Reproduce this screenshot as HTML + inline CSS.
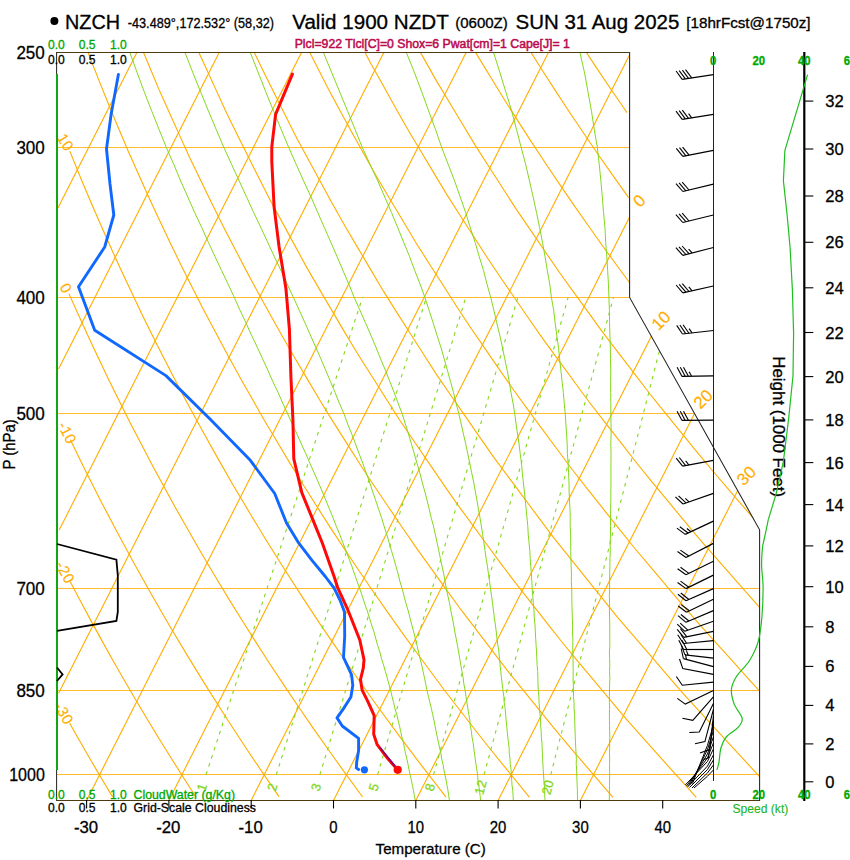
<!DOCTYPE html>
<html><head><meta charset="utf-8"><title>NZCH sounding</title>
<style>html,body{margin:0;padding:0;background:#fff}svg{display:block}</style></head>
<body><svg width="850" height="860" viewBox="0 0 850 860" font-family="Liberation Sans, Arial, Helvetica, sans-serif">
<rect width="850" height="860" fill="#fff"/>
<defs><clipPath id="c"><path d="M56.80 800.40 L759.50 800.40 L759.50 529.79 L629.93 297.45 L629.93 52.40 L56.80 52.40Z"/></clipPath></defs>
<g clip-path="url(#c)">
<path d="M56.80 774.50 L759.50 774.50" fill="none" stroke="#ffbc30" stroke-width="1.0" />
<path d="M56.80 690.50 L759.50 690.50" fill="none" stroke="#ffbc30" stroke-width="1.0" />
<path d="M56.80 588.50 L759.50 588.50" fill="none" stroke="#ffbc30" stroke-width="1.0" />
<path d="M56.80 413.50 L694.41 413.50" fill="none" stroke="#ffbc30" stroke-width="1.0" />
<path d="M56.80 297.50 L629.93 297.50" fill="none" stroke="#ffbc30" stroke-width="1.0" />
<path d="M56.80 147.50 L629.93 147.50" fill="none" stroke="#ffbc30" stroke-width="1.0" />
<path d="M58.95 -280.48 L132.39 -425.19" fill="none" stroke="#ffae00" stroke-width="1.12" />
<path d="M57.75 -115.94 L214.70 -425.19" fill="none" stroke="#ffae00" stroke-width="1.12" />
<path d="M57.82 46.11 L297.01 -425.19" fill="none" stroke="#ffae00" stroke-width="1.12" />
<path d="M57.94 208.05 L379.32 -425.19" fill="none" stroke="#ffae00" stroke-width="1.12" />
<path d="M58.52 369.09 L461.64 -425.19" fill="none" stroke="#ffae00" stroke-width="1.12" />
<path d="M59.17 529.99 L543.95 -425.19" fill="none" stroke="#ffae00" stroke-width="1.12" />
<path d="M58.59 693.32 L626.26 -425.19" fill="none" stroke="#ffae00" stroke-width="1.12" />
<path d="M86.56 800.40 L629.18 -268.77" fill="none" stroke="#ffae00" stroke-width="1.12" />
<path d="M168.87 800.40 L628.15 -104.54" fill="none" stroke="#ffae00" stroke-width="1.12" />
<path d="M251.18 800.40 L629.75 54.48" fill="none" stroke="#ffae00" stroke-width="1.12" />
<path d="M333.50 800.40 L630.23 215.73" fill="none" stroke="#ffae00" stroke-width="1.12" />
<path d="M415.81 800.40 L651.97 335.07" fill="none" stroke="#ffae00" stroke-width="1.12" />
<path d="M498.12 800.40 L694.39 413.68" fill="none" stroke="#ffae00" stroke-width="1.12" />
<path d="M580.43 800.40 L737.44 491.04" fill="none" stroke="#ffae00" stroke-width="1.12" />
<path d="M69.61 723.07 L73.93 730.74 L78.27 738.41 L82.65 746.08 L87.07 753.76 L91.52 761.43 L96.01 769.10 L100.53 776.77 L105.09 784.44 L109.69 792.11 L112.64 797.02" fill="none" stroke="#ffae00" stroke-width="1.12" />
<path d="M70.27 581.84 L80.56 601.36 L91.05 620.87 L101.76 640.38 L112.67 659.90 L123.84 679.41 L135.23 698.93 L146.84 718.44 L158.67 737.95 L170.76 757.47 L183.08 776.98 L195.63 796.50 L196.13 797.28" fill="none" stroke="#ffae00" stroke-width="1.12" />
<path d="M70.34 439.77 L85.61 470.97 L101.41 502.16 L117.80 533.36 L134.73 564.56 L152.20 595.75 L170.25 626.95 L188.92 658.15 L208.18 689.34 L228.01 720.54 L248.45 751.73 L269.58 782.93 L279.04 796.66" fill="none" stroke="#ffae00" stroke-width="1.12" />
<path d="M68.86 293.61 L88.37 336.85 L108.84 380.09 L130.35 423.33 L152.97 466.57 L176.61 509.82 L201.30 553.06 L215.69 577.27 L228.75 598.89 L242.15 620.51 L255.86 642.14 L269.76 663.76 L284.10 685.38 L298.67 707.00 L313.49 728.62 L328.75 750.24 L344.21 771.86 L360.03 793.48 L362.56 796.94" fill="none" stroke="#ffae00" stroke-width="1.12" />
<path d="M69.83 151.13 L81.06 178.92 L92.88 206.72 L104.98 234.51 L117.45 262.31 L130.46 290.10 L143.75 317.89 L157.54 345.69 L171.77 373.48 L186.28 401.28 L201.47 429.07 L216.98 456.87 L232.89 484.66 L249.42 512.45 L266.26 540.25 L283.67 568.04 L301.58 595.84 L319.81 623.63 L338.80 651.42 L358.15 679.22 L377.95 707.01 L398.46 734.81 L419.31 762.60 L440.82 790.39 L445.98 797.06" fill="none" stroke="#ffae00" stroke-width="1.12" />
<path d="M63.45 -14.23 L72.13 9.59 L80.80 33.41 L89.81 56.93 L98.95 80.34 L108.34 103.75 L118.12 127.16 L127.93 150.54 L138.19 173.55 L148.44 196.56 L159.04 219.30 L169.78 241.93 L180.73 264.55 L192.14 287.18 L203.55 309.81 L215.41 332.10 L227.31 354.36 L239.46 376.44 L251.86 398.34 L264.26 420.24 L277.16 441.79 L290.06 463.34 L303.21 484.73 L316.62 505.95 L330.04 527.16 L343.92 548.07 L357.85 568.96 L371.94 589.75 L386.38 610.32 L400.83 630.89 L415.63 651.25 L430.60 671.52 L445.58 691.78 L461.08 711.75 L476.58 731.72 L492.18 751.52 L507.99 770.92 L523.80 790.31 L529.50 797.30" fill="none" stroke="#ffae00" stroke-width="1.12" />
<path d="M63.15 -170.53 L70.82 -146.74 L78.48 -122.94 L86.35 -99.14 L94.73 -75.34 L103.11 -51.55 L111.83 -27.94 L120.82 -4.49 L129.80 18.96 L139.28 42.15 L148.89 65.27 L158.49 88.38 L168.87 111.50 L179.24 134.62 L189.74 157.67 L200.76 180.46 L211.78 203.25 L223.03 225.93 L234.70 248.41 L246.37 270.88 L258.27 293.07 L270.44 314.93 L282.60 336.80 L295.12 358.52 L307.95 380.09 L320.78 401.67 L333.97 423.10 L347.48 444.39 L360.99 465.68 L374.75 486.71 L388.78 507.46 L402.80 528.21 L417.07 548.86 L431.79 569.34 L446.52 589.83 L461.34 610.21 L476.59 630.19 L491.83 650.17 L507.08 670.14 L522.83 689.66 L538.60 709.16 L554.37 728.65 L570.49 747.86 L586.79 766.89 L603.10 785.93 L612.89 797.35" fill="none" stroke="#ffae00" stroke-width="1.12" />
<path d="M63.34 -334.52 L70.09 -310.27 L76.83 -286.02 L83.57 -261.77 L90.95 -237.79 L98.40 -213.85 L105.86 -189.90 L113.84 -166.18 L122.02 -142.53 L130.21 -118.89 L138.78 -95.40 L147.71 -72.04 L156.64 -48.69 L165.78 -25.42 L175.47 -2.35 L185.16 20.72 L194.85 43.78 L205.31 66.57 L215.78 89.36 L226.25 112.15 L237.26 134.76 L248.53 157.28 L259.80 179.79 L271.28 202.15 L283.23 224.14 L295.17 246.13 L307.12 268.13 L319.79 289.90 L332.57 311.64 L345.34 333.39 L358.40 354.93 L371.87 376.19 L385.35 397.44 L398.82 418.69 L412.90 439.55 L427.08 460.34 L441.27 481.12 L455.60 501.82 L470.50 522.16 L485.41 542.50 L500.31 562.84 L515.49 582.87 L530.97 602.58 L546.44 622.28 L561.92 641.98 L577.87 661.43 L594.09 680.73 L610.31 700.03 L626.53 719.33 L643.17 738.22 L659.97 756.95 L676.78 775.68 L693.59 794.41 L696.28 797.40" fill="none" stroke="#ffae00" stroke-width="1.12" />
<path d="M83.91 -425.19 L90.37 -400.77 L96.84 -376.34 L103.31 -351.92 L110.32 -327.70 L117.55 -303.57 L124.78 -279.44 L132.32 -255.43 L140.33 -231.58 L148.33 -207.74 L156.37 -183.91 L165.18 -160.34 L173.98 -136.78 L182.79 -113.22 L192.12 -89.83 L201.74 -66.54 L211.37 -43.25 L221.14 -20.07 L231.48 2.69 L241.83 25.45 L252.18 48.21 L263.11 70.80 L274.32 93.30 L285.52 115.81 L296.82 138.25 L308.77 160.26 L320.72 182.27 L332.68 204.28 L344.99 226.06 L357.71 247.60 L370.42 269.14 L383.13 290.67 L396.43 311.86 L409.92 332.95 L423.40 354.03 L436.89 375.11 L451.13 395.78 L465.40 416.43 L479.68 437.07 L494.01 457.69 L509.08 477.92 L524.16 498.15 L539.23 518.38 L554.39 538.54 L570.12 558.18 L585.86 577.81 L601.59 597.45 L617.35 617.06 L633.76 636.14 L650.17 655.21 L666.58 674.29 L682.99 693.36 L699.97 711.99 L717.06 730.54 L734.15 749.08 L751.25 767.63 L759.45 776.53" fill="none" stroke="#ffae00" stroke-width="1.12" />
<path d="M126.51 -425.19 L133.46 -401.02 L140.41 -376.85 L147.35 -352.68 L154.95 -328.80 L162.60 -304.93 L170.25 -281.07 L178.47 -257.46 L186.84 -233.90 L195.20 -210.34 L204.11 -186.78 L213.33 -163.22 L222.54 -139.66 L232.12 -116.24 L242.09 -92.98 L252.06 -69.72 L262.21 -46.61 L272.82 -23.91 L283.44 -1.22 L294.05 21.48 L305.45 43.90 L316.84 66.33 L328.24 88.75 L340.18 110.99 L352.38 133.15 L364.58 155.30 L377.00 177.29 L389.87 198.94 L402.74 220.58 L415.61 242.22 L429.08 263.43 L442.63 284.57 L456.18 305.72 L469.97 326.70 L484.21 347.38 L498.45 368.06 L512.69 388.74 L527.46 409.08 L542.40 429.31 L557.34 449.54 L572.33 469.73 L587.98 489.53 L603.63 509.33 L619.28 529.13 L635.11 548.74 L651.31 567.92 L667.51 587.11 L683.72 606.30 L700.17 625.23 L716.94 643.84 L733.70 662.45 L750.47 681.06 L759.86 691.49" fill="none" stroke="#ffae00" stroke-width="1.12" />
<path d="M169.12 -425.19 L176.54 -401.24 L183.97 -377.29 L191.49 -353.34 L199.67 -329.39 L207.85 -305.44 L216.19 -281.56 L225.04 -257.94 L233.88 -234.32 L242.94 -210.80 L252.46 -187.49 L261.98 -164.19 L271.74 -141.00 L281.94 -118.00 L292.15 -95.01 L302.60 -72.12 L313.50 -49.43 L324.40 -26.74 L335.53 -4.15 L347.15 18.25 L358.76 40.65 L370.55 62.97 L382.89 85.08 L395.23 107.19 L407.64 129.23 L420.55 150.79 L433.47 172.35 L446.39 193.90 L459.99 215.21 L473.66 236.50 L487.33 257.79 L501.40 278.73 L515.65 299.51 L529.91 320.29 L544.39 340.89 L559.24 361.18 L574.10 381.47 L588.96 401.75 L604.40 421.59 L619.86 441.42 L635.33 461.24 L651.09 480.85 L667.16 500.22 L683.24 519.60 L699.32 538.97 L715.98 557.96 L732.68 576.91 L749.38 595.86 L761.41 609.50" fill="none" stroke="#ffae00" stroke-width="1.12" />
<path d="M211.72 -425.19 L219.69 -401.22 L227.67 -377.25 L235.85 -353.40 L244.40 -329.79 L252.96 -306.17 L262.01 -282.56 L271.29 -258.94 L280.57 -235.33 L290.46 -212.06 L300.34 -188.79 L310.40 -165.62 L320.89 -142.69 L331.39 -119.76 L342.21 -97.00 L353.33 -74.40 L364.45 -51.80 L376.02 -29.42 L387.77 -7.14 L399.52 15.15 L411.83 37.16 L424.22 59.13 L436.61 81.11 L449.65 102.78 L462.69 124.46 L475.76 146.08 L489.28 167.18 L502.80 188.28 L516.37 209.35 L530.56 230.17 L544.75 250.99 L558.95 271.78 L573.63 292.07 L588.30 312.35 L602.97 332.64 L618.28 352.68 L633.64 372.71 L649.00 392.74 L664.74 412.39 L680.60 431.92 L696.46 451.46 L712.58 470.75 L728.95 489.81 L745.31 508.87 L758.41 524.12" fill="none" stroke="#ffae00" stroke-width="1.12" />
<path d="M254.33 -425.19 L262.74 -401.33 L271.16 -377.46 L280.12 -353.59 L289.09 -329.72 L298.42 -306.32 L307.76 -282.93 L317.63 -259.53 L327.53 -236.13 L337.77 -213.14 L348.05 -190.19 L358.81 -167.24 L369.67 -144.29 L380.81 -121.67 L392.05 -99.16 L403.67 -76.64 L415.51 -54.13 L427.55 -31.83 L439.78 -9.73 L452.14 12.23 L464.76 33.92 L477.47 55.62 L490.71 77.32 L503.95 99.02 L517.57 120.34 L531.21 141.65 L545.13 162.69 L559.17 183.63 L573.38 204.41 L587.81 224.98 L602.30 245.51 L617.14 265.74 L631.98 285.97 L635.54 290.82" fill="none" stroke="#ffae00" stroke-width="1.12" />
<path d="M296.93 -425.19 L305.86 -401.38 L314.85 -377.70 L324.06 -354.42 L333.48 -331.14 L343.18 -307.86 L353.20 -284.58 L363.39 -261.30 L373.82 -238.44 L384.30 -215.67 L395.29 -192.89 L406.36 -170.12 L417.87 -147.34 L429.47 -124.72 L441.27 -102.43 L453.30 -80.14 L465.63 -57.85 L478.11 -35.82 L490.73 -14.00 L503.69 7.83 L516.85 29.66 L530.22 51.16 L543.67 72.54 L557.33 93.60 L571.06 114.55 L585.23 135.50 L599.52 156.45 L614.04 177.09 L628.63 197.64" fill="none" stroke="#ffae00" stroke-width="1.12" />
<path d="M339.54 -425.19 L348.83 -401.79 L358.32 -378.38 L368.05 -354.97 L378.16 -331.57 L388.38 -308.35 L398.73 -285.53 L409.39 -262.70 L420.24 -239.88 L431.48 -217.06 L442.81 -194.53 L454.23 -172.26 L466.05 -150.00 L478.04 -127.74 L490.39 -105.47 L502.84 -83.52 L515.36 -61.79 L528.32 -40.05 L541.43 -18.32 L554.92 3.41 L568.49 24.87 L582.15 46.10 L596.22 67.32 L610.39 88.50 L624.71 109.24 L627.00 112.56" fill="none" stroke="#ffae00" stroke-width="1.12" />
<path d="M382.14 -425.19 L392.04 -401.60 L402.19 -378.01 L412.49 -354.68 L422.83 -331.78 L433.55 -308.88 L444.52 -285.99 L455.73 -263.09 L467.23 -240.20 L478.78 -217.91 L490.54 -195.66 L502.54 -173.42 L514.89 -151.18 L527.53 -128.94 L540.31 -106.90 L553.11 -85.27 L566.28 -63.65 L579.68 -42.03 L593.31 -20.41 L606.99 0.63 L620.88 21.67 L634.41 41.87" fill="none" stroke="#ffae00" stroke-width="1.12" />
<path d="M424.75 -425.19 L434.91 -402.17 L445.35 -379.15 L456.07 -356.14 L467.07 -333.12 L478.35 -310.10 L489.93 -287.08 L501.67 -264.28 L513.39 -242.06 L525.41 -219.83 L537.74 -197.61 L550.35 -175.38 L563.25 -153.16 L576.22 -131.29 L589.24 -109.80 L602.53 -88.32 L616.14 -66.84 L630.05 -45.35 L634.52 -38.48" fill="none" stroke="#ffae00" stroke-width="1.12" />
<path d="M467.35 -425.19 L478.15 -401.98 L489.23 -378.77 L500.60 -355.56 L512.26 -332.35 L523.90 -309.75 L535.61 -287.55 L547.61 -265.35 L559.89 -243.15 L572.45 -220.95 L585.32 -198.75 L598.49 -176.55 L611.96 -154.35 L625.54 -132.44 L634.11 -118.82" fill="none" stroke="#ffae00" stroke-width="1.12" />
<path d="M509.96 -425.19 L521.59 -401.40 L532.99 -378.61 L544.51 -356.22 L556.28 -333.82 L568.37 -311.43 L580.71 -289.03 L593.38 -266.64 L606.32 -244.24 L619.58 -221.85 L633.14 -199.45 L634.77 -196.76" fill="none" stroke="#ffae00" stroke-width="1.12" />
<path d="M552.56 -425.19 L564.09 -402.67 L575.89 -380.15 L587.98 -357.63 L600.36 -335.11 L613.05 -312.58 L626.03 -290.06 L633.95 -276.55" fill="none" stroke="#ffae00" stroke-width="1.12" />
<path d="M595.17 -425.19 L608.17 -400.91 L621.51 -376.63 L635.20 -352.35" fill="none" stroke="#ffae00" stroke-width="1.12" />
<path d="M415.34 800.40 L414.26 795.41 L413.44 790.38 L412.41 785.29 L411.40 780.16 L410.18 774.97 L408.99 769.73 L408.06 764.44 L406.92 759.09 L405.56 753.69 L404.48 748.23 L403.43 742.72 L401.92 737.14 L400.69 731.51 L399.48 725.81 L398.07 720.05 L396.69 714.23 L394.86 708.34 L393.55 702.38 L392.03 696.36 L390.55 690.26 L388.87 684.09 L387.23 677.85 L385.38 671.53 L383.58 665.14 L381.57 658.66 L379.85 652.11 L377.68 645.47 L375.80 638.74 L373.97 631.93 L371.70 625.02 L369.48 618.03 L367.30 610.93 L364.70 603.75 L362.38 596.46 L359.88 589.06 L357.15 581.56 L354.48 573.95 L351.87 566.23 L348.83 558.39 L345.85 550.44 L342.70 542.35 L339.60 534.15 L336.10 525.81 L332.90 517.33 L329.29 508.72 L325.75 499.95 L322.05 491.04 L318.18 481.98 L314.16 472.75 L309.98 463.36 L305.88 453.80 L301.39 444.06 L297.00 434.13 L292.22 424.01 L287.54 413.68 L282.74 403.15 L278.06 392.41 L272.77 381.43 L267.85 370.22 L262.57 358.77 L257.20 347.05 L251.48 335.07 L245.91 322.81 L240.01 310.25 L234.28 297.38 L228.10 284.18 L221.61 270.64 L215.07 256.74 L208.48 242.46 L201.86 227.78 L194.74 212.67 L187.85 197.11 L180.73 181.07 L173.87 164.52 L166.33 147.43 L159.20 129.76 L151.91 111.47 L144.48 92.51 L137.19 72.84 L129.83 52.40" fill="none" stroke="#84d81c" stroke-width="1.0" />
<path d="M449.43 800.40 L448.68 795.41 L447.96 790.38 L447.02 785.29 L446.11 780.16 L444.98 774.97 L443.87 769.73 L443.03 764.44 L441.74 759.09 L440.95 753.69 L439.71 748.23 L438.49 742.72 L437.31 737.14 L436.15 731.51 L435.02 725.81 L433.93 720.05 L432.62 714.23 L431.34 708.34 L429.86 702.38 L428.41 696.36 L426.99 690.26 L425.73 684.09 L424.51 677.85 L423.08 671.53 L421.69 665.14 L420.11 658.66 L418.56 652.11 L417.05 645.47 L415.35 638.74 L413.69 631.93 L411.83 625.02 L410.02 618.03 L408.26 610.93 L406.07 603.75 L404.16 596.46 L402.31 589.06 L399.96 581.56 L398.14 573.95 L395.91 566.23 L393.73 558.39 L391.38 550.44 L389.09 542.35 L386.62 534.15 L383.99 525.81 L381.42 517.33 L378.44 508.72 L375.54 499.95 L372.48 491.04 L369.50 481.98 L366.12 472.75 L362.83 463.36 L359.14 453.80 L355.55 444.06 L351.81 434.13 L347.69 424.01 L343.92 413.68 L339.31 403.15 L335.05 392.41 L330.43 381.43 L325.69 370.22 L320.84 358.77 L315.65 347.05 L310.35 335.07 L304.96 322.81 L299.24 310.25 L293.44 297.38 L287.24 284.18 L280.97 270.64 L274.41 256.74 L267.81 242.46 L260.93 227.78 L253.78 212.67 L246.63 197.11 L239.25 181.07 L231.65 164.52 L223.84 147.43 L216.32 129.76 L208.64 111.47 L200.84 92.51 L192.93 72.84 L184.95 52.40" fill="none" stroke="#84d81c" stroke-width="1.0" />
<path d="M480.56 800.40 L480.11 795.41 L479.44 790.38 L478.80 785.29 L477.94 780.16 L477.59 774.97 L476.79 769.73 L476.00 764.44 L475.25 759.09 L474.52 753.69 L473.82 748.23 L473.15 742.72 L472.02 737.14 L471.41 731.51 L470.34 725.81 L469.79 720.05 L468.79 714.23 L467.82 708.34 L466.88 702.38 L465.98 696.36 L465.11 690.26 L463.86 684.09 L463.13 677.85 L461.96 671.53 L460.83 665.14 L459.73 658.66 L458.68 652.11 L457.43 645.47 L456.22 638.74 L454.82 631.93 L453.70 625.02 L452.38 618.03 L450.88 610.93 L449.66 603.75 L448.01 596.46 L446.42 589.06 L445.05 581.56 L443.75 573.95 L442.02 566.23 L440.35 558.39 L438.75 550.44 L436.97 542.35 L435.26 534.15 L433.37 525.81 L431.08 517.33 L429.10 508.72 L426.95 499.95 L424.64 491.04 L422.17 481.98 L419.79 472.75 L417.01 463.36 L414.32 453.80 L411.49 444.06 L408.51 434.13 L405.39 424.01 L402.13 413.68 L398.08 403.15 L394.13 392.41 L389.81 381.43 L385.36 370.22 L380.55 358.77 L375.86 347.05 L370.82 335.07 L365.44 322.81 L359.96 310.25 L354.14 297.38 L348.84 284.18 L343.00 270.64 L337.11 256.74 L330.93 242.46 L324.49 227.78 L317.79 212.67 L311.09 197.11 L303.68 181.07 L296.29 164.52 L288.71 147.43 L281.29 129.76 L273.73 111.47 L266.06 92.51 L258.31 72.84 L250.27 52.40" fill="none" stroke="#84d81c" stroke-width="1.0" />
<path d="M513.29 800.40 L513.10 795.41 L512.69 790.38 L512.06 785.29 L511.70 780.16 L511.36 774.97 L511.05 769.73 L510.28 764.44 L510.02 759.09 L509.31 753.69 L509.11 748.23 L508.45 742.72 L507.82 737.14 L507.22 731.51 L506.65 725.81 L506.12 720.05 L505.61 714.23 L505.14 708.34 L504.22 702.38 L503.81 696.36 L502.96 690.26 L502.20 684.09 L501.47 677.85 L500.78 671.53 L500.13 665.14 L499.52 658.66 L498.95 652.11 L497.94 645.47 L496.97 638.74 L496.29 631.93 L495.41 625.02 L494.34 618.03 L493.56 610.93 L492.58 603.75 L491.65 596.46 L490.54 589.06 L489.60 581.56 L488.48 573.95 L487.41 566.23 L486.16 558.39 L484.98 550.44 L483.86 542.35 L482.56 534.15 L481.33 525.81 L479.93 517.33 L478.37 508.72 L476.87 499.95 L475.22 491.04 L473.64 481.98 L471.67 472.75 L469.78 463.36 L467.73 453.80 L465.79 444.06 L463.45 434.13 L461.22 424.01 L458.84 413.68 L456.11 403.15 L453.48 392.41 L450.49 381.43 L447.38 370.22 L444.16 358.77 L440.83 347.05 L436.92 335.07 L433.15 322.81 L429.06 310.25 L424.88 297.38 L420.11 284.18 L414.79 270.64 L409.65 256.74 L403.73 242.46 L397.78 227.78 L391.55 212.67 L384.82 197.11 L377.85 181.07 L370.17 164.52 L362.27 147.43 L355.20 129.76 L347.74 111.47 L339.93 92.51 L331.80 72.84 L323.36 52.40" fill="none" stroke="#84d81c" stroke-width="1.0" />
<path d="M545.10 800.40 L544.65 795.41 L544.70 790.38 L544.30 785.29 L543.92 780.16 L543.56 774.97 L543.23 769.73 L542.93 764.44 L542.65 759.09 L542.40 753.69 L542.18 748.23 L541.98 742.72 L541.33 737.14 L541.20 731.51 L540.61 725.81 L540.53 720.05 L540.01 714.23 L539.51 708.34 L539.05 702.38 L538.87 696.36 L538.23 690.26 L538.02 684.09 L537.84 677.85 L537.70 671.53 L537.12 665.14 L536.82 658.66 L536.56 652.11 L536.11 645.47 L535.70 638.74 L535.33 631.93 L535.01 625.02 L534.25 618.03 L534.03 610.93 L533.37 603.75 L532.77 596.46 L532.22 589.06 L531.81 581.56 L531.46 573.95 L530.69 566.23 L530.22 558.39 L529.81 550.44 L528.99 542.35 L528.23 534.15 L527.78 525.81 L526.93 517.33 L526.14 508.72 L525.19 499.95 L524.32 491.04 L523.29 481.98 L522.34 472.75 L521.48 463.36 L520.23 453.80 L519.07 444.06 L517.52 434.13 L516.08 424.01 L514.74 413.68 L513.04 403.15 L510.96 392.41 L509.24 381.43 L507.16 370.22 L504.71 358.77 L502.40 347.05 L499.74 335.07 L496.73 322.81 L493.88 310.25 L490.70 297.38 L487.04 284.18 L483.55 270.64 L479.27 256.74 L475.18 242.46 L470.32 227.78 L465.66 212.67 L460.27 197.11 L454.63 181.07 L448.27 164.52 L441.70 147.43 L435.59 129.76 L428.84 111.47 L421.98 92.51 L414.54 72.84 L406.31 52.40" fill="none" stroke="#84d81c" stroke-width="1.0" />
<path d="M577.68 800.40 L577.40 795.41 L577.39 790.38 L577.16 785.29 L576.96 780.16 L576.78 774.97 L576.62 769.73 L576.25 764.44 L576.39 759.09 L576.07 753.69 L575.77 748.23 L575.51 742.72 L575.27 737.14 L575.07 731.51 L574.89 725.81 L574.74 720.05 L574.62 714.23 L574.05 708.34 L574.00 702.38 L573.49 696.36 L573.50 690.26 L573.28 684.09 L573.10 677.85 L573.20 671.53 L573.09 665.14 L573.03 658.66 L572.76 652.11 L572.78 645.47 L572.85 638.74 L572.47 631.93 L572.63 625.02 L572.35 618.03 L572.12 610.93 L571.94 603.75 L571.81 596.46 L571.73 589.06 L571.32 581.56 L571.45 573.95 L571.16 566.23 L570.92 558.39 L570.75 550.44 L570.65 542.35 L570.61 534.15 L570.15 525.81 L570.26 517.33 L569.95 508.72 L569.47 499.95 L569.08 491.04 L569.01 481.98 L568.54 472.75 L568.15 463.36 L567.38 453.80 L567.18 444.06 L566.59 434.13 L565.87 424.01 L565.25 413.68 L564.23 403.15 L563.33 392.41 L562.05 381.43 L560.89 370.22 L559.61 358.77 L558.46 347.05 L556.72 335.07 L555.13 322.81 L553.68 310.25 L551.42 297.38 L549.76 284.18 L547.32 270.64 L545.05 256.74 L542.49 242.46 L539.65 227.78 L536.54 212.67 L533.16 197.11 L529.55 181.07 L525.70 164.52 L521.16 147.43 L516.58 129.76 L511.84 111.47 L505.99 92.51 L500.02 72.84 L493.47 52.40" fill="none" stroke="#84d81c" stroke-width="1.0" />
<path d="M609.35 800.40 L609.37 795.41 L609.41 790.38 L609.48 785.29 L609.57 780.16 L609.69 774.97 L609.59 769.73 L609.52 764.44 L609.71 759.09 L609.45 753.69 L609.70 748.23 L609.50 742.72 L609.81 737.14 L609.66 731.51 L609.54 725.81 L609.46 720.05 L609.40 714.23 L609.62 708.34 L609.39 702.38 L609.43 696.36 L609.51 690.26 L609.65 684.09 L609.83 677.85 L609.56 671.53 L609.81 665.14 L609.62 658.66 L609.46 652.11 L609.84 645.47 L609.77 638.74 L609.74 631.93 L609.76 625.02 L609.58 618.03 L609.45 610.93 L609.61 603.75 L609.34 596.46 L609.60 589.06 L609.62 581.56 L609.69 573.95 L609.83 566.23 L610.03 558.39 L610.28 550.44 L610.12 542.35 L610.51 534.15 L610.48 525.81 L610.52 517.33 L610.64 508.72 L610.83 499.95 L610.86 491.04 L610.96 481.98 L610.91 472.75 L610.95 463.36 L611.07 453.80 L610.80 444.06 L611.12 434.13 L611.05 424.01 L610.84 413.68 L610.82 403.15 L610.67 392.41 L610.64 381.43 L610.73 370.22 L610.47 358.77 L610.35 347.05 L609.89 335.07 L609.57 322.81 L609.41 310.25 L608.93 297.38 L608.44 284.18 L607.65 270.64 L606.80 256.74 L605.67 242.46 L604.98 227.78 L603.54 212.67 L602.34 197.11 L600.90 181.07 L599.24 164.52 L597.37 147.43 L594.30 129.76 L591.52 111.47 L588.10 92.51 L584.55 72.84 L579.92 52.40" fill="none" stroke="#84d81c" stroke-width="1.0" />
<path d="M550.80 774.67 L673.16 297.38" fill="none" stroke="#84d81c" stroke-width="1.1" stroke-dasharray="3.6 4.9"/>
<path d="M484.07 774.67 L613.50 297.38" fill="none" stroke="#84d81c" stroke-width="1.1" stroke-dasharray="3.6 4.9"/>
<path d="M433.51 774.67 L568.16 297.38" fill="none" stroke="#84d81c" stroke-width="1.1" stroke-dasharray="3.6 4.9"/>
<path d="M377.55 774.67 L517.84 297.38" fill="none" stroke="#84d81c" stroke-width="1.1" stroke-dasharray="3.6 4.9"/>
<path d="M319.87 774.67 L465.80 297.38" fill="none" stroke="#84d81c" stroke-width="1.1" stroke-dasharray="3.6 4.9"/>
<path d="M276.30 774.67 L426.37 297.38" fill="none" stroke="#84d81c" stroke-width="1.1" stroke-dasharray="3.6 4.9"/>
<path d="M206.04 774.67 L362.56 297.38" fill="none" stroke="#84d81c" stroke-width="1.1" stroke-dasharray="3.6 4.9"/>
</g>
<path d="M56.1 800.5 L760.1 800.5" fill="none" stroke="#4e3c10" stroke-width="1.1" />
<path d="M56.1 52.5 L630.1 52.5" fill="none" stroke="#4e3c10" stroke-width="1.1" />
<path d="M56.6 52.5 L56.6 800.5" fill="none" stroke="#222" stroke-width="1.0" />
<path d="M629.6 52.5 L629.6 297.4 L759.6 529.8 L759.6 800.5" fill="none" stroke="#222" stroke-width="1.05" />
<text transform="translate(639.4,200.9) rotate(-45.0)" font-size="17" fill="#ffae00" text-anchor="middle" dominant-baseline="central" stroke="#ffae00" stroke-width="0.15" letter-spacing="0">0</text>
<text transform="translate(661.2,320.8) rotate(-45.0)" font-size="17" fill="#ffae00" text-anchor="middle" dominant-baseline="central" stroke="#ffae00" stroke-width="0.15" letter-spacing="0">10</text>
<text transform="translate(703.4,399.3) rotate(-45.0)" font-size="17" fill="#ffae00" text-anchor="middle" dominant-baseline="central" stroke="#ffae00" stroke-width="0.15" letter-spacing="0">20</text>
<text transform="translate(746.5,475.9) rotate(-45.0)" font-size="17" fill="#ffae00" text-anchor="middle" dominant-baseline="central" stroke="#ffae00" stroke-width="0.15" letter-spacing="0">30</text>
<text transform="translate(65.7,142.2) rotate(58.0)" font-size="15" fill="#ffae00" text-anchor="middle" dominant-baseline="central" stroke="#ffae00" stroke-width="0.15" letter-spacing="0.4">10</text>
<text transform="translate(66.1,288.0) rotate(60.0)" font-size="15" fill="#ffae00" text-anchor="middle" dominant-baseline="central" stroke="#ffae00" stroke-width="0.15" letter-spacing="0.4">0</text>
<text transform="translate(67.5,432.6) rotate(63.0)" font-size="15" fill="#ffae00" text-anchor="middle" dominant-baseline="central" stroke="#ffae00" stroke-width="0.15" letter-spacing="0.4">-10</text>
<text transform="translate(65.5,572.2) rotate(61.0)" font-size="15" fill="#ffae00" text-anchor="middle" dominant-baseline="central" stroke="#ffae00" stroke-width="0.15" letter-spacing="0.4">-20</text>
<text transform="translate(64.2,713.2) rotate(60.0)" font-size="15" fill="#ffae00" text-anchor="middle" dominant-baseline="central" stroke="#ffae00" stroke-width="0.15" letter-spacing="0.4">-30</text>
<text transform="translate(547.6,787.3) rotate(-75.6)" font-size="13" fill="#84d81c" text-anchor="middle" dominant-baseline="central" stroke="#84d81c" stroke-width="0.3" letter-spacing="0">20</text>
<text transform="translate(480.6,787.3) rotate(-74.8)" font-size="13" fill="#84d81c" text-anchor="middle" dominant-baseline="central" stroke="#84d81c" stroke-width="0.3" letter-spacing="0">12</text>
<text transform="translate(429.9,787.3) rotate(-74.2)" font-size="13" fill="#84d81c" text-anchor="middle" dominant-baseline="central" stroke="#84d81c" stroke-width="0.3" letter-spacing="0">8</text>
<text transform="translate(373.8,787.3) rotate(-73.6)" font-size="13" fill="#84d81c" text-anchor="middle" dominant-baseline="central" stroke="#84d81c" stroke-width="0.3" letter-spacing="0">5</text>
<text transform="translate(316.0,787.3) rotate(-73.0)" font-size="13" fill="#84d81c" text-anchor="middle" dominant-baseline="central" stroke="#84d81c" stroke-width="0.3" letter-spacing="0">3</text>
<text transform="translate(272.3,787.3) rotate(-72.5)" font-size="13" fill="#84d81c" text-anchor="middle" dominant-baseline="central" stroke="#84d81c" stroke-width="0.3" letter-spacing="0">2</text>
<text transform="translate(201.9,787.3) rotate(-71.8)" font-size="13" fill="#84d81c" text-anchor="middle" dominant-baseline="central" stroke="#84d81c" stroke-width="0.3" letter-spacing="0">1</text>
<path d="M713.5 52.0 L713.5 781.0" fill="none" stroke="#222" stroke-width="1.0" />
<path d="M804.3 52.0 L804.3 801.0" fill="none" stroke="#000" stroke-width="2.2" />
<path d="M804.3 781.8 L813.3 781.8" fill="none" stroke="#000" stroke-width="1.1" />
<text x="825.2" y="787.8" font-size="16.8" fill="#000" text-anchor="start" stroke="#000" stroke-width="0.3"  textLength="9.2" lengthAdjust="spacingAndGlyphs">0</text>
<path d="M804.3 743.9 L813.3 743.9" fill="none" stroke="#000" stroke-width="1.1" />
<text x="825.2" y="749.9" font-size="16.8" fill="#000" text-anchor="start" stroke="#000" stroke-width="0.3"  textLength="9.2" lengthAdjust="spacingAndGlyphs">2</text>
<path d="M804.3 705.4 L813.3 705.4" fill="none" stroke="#000" stroke-width="1.1" />
<text x="825.2" y="711.4" font-size="16.8" fill="#000" text-anchor="start" stroke="#000" stroke-width="0.3"  textLength="9.2" lengthAdjust="spacingAndGlyphs">4</text>
<path d="M804.3 666.4 L813.3 666.4" fill="none" stroke="#000" stroke-width="1.1" />
<text x="825.2" y="672.4" font-size="16.8" fill="#000" text-anchor="start" stroke="#000" stroke-width="0.3"  textLength="9.2" lengthAdjust="spacingAndGlyphs">6</text>
<path d="M804.3 626.8 L813.3 626.8" fill="none" stroke="#000" stroke-width="1.1" />
<text x="825.2" y="632.8" font-size="16.8" fill="#000" text-anchor="start" stroke="#000" stroke-width="0.3"  textLength="9.2" lengthAdjust="spacingAndGlyphs">8</text>
<path d="M804.3 586.7 L813.3 586.7" fill="none" stroke="#000" stroke-width="1.1" />
<text x="825.2" y="592.7" font-size="16.8" fill="#000" text-anchor="start" stroke="#000" stroke-width="0.3"  textLength="18.4" lengthAdjust="spacingAndGlyphs">10</text>
<path d="M804.3 545.9 L813.3 545.9" fill="none" stroke="#000" stroke-width="1.1" />
<text x="825.2" y="551.9" font-size="16.8" fill="#000" text-anchor="start" stroke="#000" stroke-width="0.3"  textLength="18.4" lengthAdjust="spacingAndGlyphs">12</text>
<path d="M804.3 504.6 L813.3 504.6" fill="none" stroke="#000" stroke-width="1.1" />
<text x="825.2" y="510.6" font-size="16.8" fill="#000" text-anchor="start" stroke="#000" stroke-width="0.3"  textLength="18.4" lengthAdjust="spacingAndGlyphs">14</text>
<path d="M804.3 462.6 L813.3 462.6" fill="none" stroke="#000" stroke-width="1.1" />
<text x="825.2" y="468.6" font-size="16.8" fill="#000" text-anchor="start" stroke="#000" stroke-width="0.3"  textLength="18.4" lengthAdjust="spacingAndGlyphs">16</text>
<path d="M804.3 419.9 L813.3 419.9" fill="none" stroke="#000" stroke-width="1.1" />
<text x="825.2" y="425.9" font-size="16.8" fill="#000" text-anchor="start" stroke="#000" stroke-width="0.3"  textLength="18.4" lengthAdjust="spacingAndGlyphs">18</text>
<path d="M804.3 376.6 L813.3 376.6" fill="none" stroke="#000" stroke-width="1.1" />
<text x="825.2" y="382.6" font-size="16.8" fill="#000" text-anchor="start" stroke="#000" stroke-width="0.3"  textLength="18.4" lengthAdjust="spacingAndGlyphs">20</text>
<path d="M804.3 332.5 L813.3 332.5" fill="none" stroke="#000" stroke-width="1.1" />
<text x="825.2" y="338.5" font-size="16.8" fill="#000" text-anchor="start" stroke="#000" stroke-width="0.3"  textLength="18.4" lengthAdjust="spacingAndGlyphs">22</text>
<path d="M804.3 287.8 L813.3 287.8" fill="none" stroke="#000" stroke-width="1.1" />
<text x="825.2" y="293.8" font-size="16.8" fill="#000" text-anchor="start" stroke="#000" stroke-width="0.3"  textLength="18.4" lengthAdjust="spacingAndGlyphs">24</text>
<path d="M804.3 242.3 L813.3 242.3" fill="none" stroke="#000" stroke-width="1.1" />
<text x="825.2" y="248.3" font-size="16.8" fill="#000" text-anchor="start" stroke="#000" stroke-width="0.3"  textLength="18.4" lengthAdjust="spacingAndGlyphs">26</text>
<path d="M804.3 196.0 L813.3 196.0" fill="none" stroke="#000" stroke-width="1.1" />
<text x="825.2" y="202.0" font-size="16.8" fill="#000" text-anchor="start" stroke="#000" stroke-width="0.3"  textLength="18.4" lengthAdjust="spacingAndGlyphs">28</text>
<path d="M804.3 149.0 L813.3 149.0" fill="none" stroke="#000" stroke-width="1.1" />
<text x="825.2" y="155.0" font-size="16.8" fill="#000" text-anchor="start" stroke="#000" stroke-width="0.3"  textLength="18.4" lengthAdjust="spacingAndGlyphs">30</text>
<path d="M804.3 101.1 L813.3 101.1" fill="none" stroke="#000" stroke-width="1.1" />
<text x="825.2" y="107.1" font-size="16.8" fill="#000" text-anchor="start" stroke="#000" stroke-width="0.3"  textLength="18.4" lengthAdjust="spacingAndGlyphs">32</text>
<path d="M86.6 800.0 L86.6 808.5" fill="none" stroke="#000" stroke-width="1.1" />
<text x="86.0" y="833.2" font-size="16.8" fill="#000" text-anchor="middle" stroke="#000" stroke-width="0.3"  textLength="24.2" lengthAdjust="spacingAndGlyphs">-30</text>
<path d="M168.9 800.0 L168.9 808.5" fill="none" stroke="#000" stroke-width="1.1" />
<text x="168.3" y="833.2" font-size="16.8" fill="#000" text-anchor="middle" stroke="#000" stroke-width="0.3"  textLength="24.2" lengthAdjust="spacingAndGlyphs">-20</text>
<path d="M251.2 800.0 L251.2 808.5" fill="none" stroke="#000" stroke-width="1.1" />
<text x="250.6" y="833.2" font-size="16.8" fill="#000" text-anchor="middle" stroke="#000" stroke-width="0.3"  textLength="24.2" lengthAdjust="spacingAndGlyphs">-10</text>
<path d="M333.5 800.0 L333.5 808.5" fill="none" stroke="#000" stroke-width="1.1" />
<text x="333.5" y="833.2" font-size="16.8" fill="#000" text-anchor="middle" stroke="#000" stroke-width="0.3"  textLength="8.3" lengthAdjust="spacingAndGlyphs">0</text>
<path d="M415.8 800.0 L415.8 808.5" fill="none" stroke="#000" stroke-width="1.1" />
<text x="415.8" y="833.2" font-size="16.8" fill="#000" text-anchor="middle" stroke="#000" stroke-width="0.3"  textLength="16.6" lengthAdjust="spacingAndGlyphs">10</text>
<path d="M498.1 800.0 L498.1 808.5" fill="none" stroke="#000" stroke-width="1.1" />
<text x="498.1" y="833.2" font-size="16.8" fill="#000" text-anchor="middle" stroke="#000" stroke-width="0.3"  textLength="16.6" lengthAdjust="spacingAndGlyphs">20</text>
<path d="M580.4 800.0 L580.4 808.5" fill="none" stroke="#000" stroke-width="1.1" />
<text x="580.4" y="833.2" font-size="16.8" fill="#000" text-anchor="middle" stroke="#000" stroke-width="0.3"  textLength="16.6" lengthAdjust="spacingAndGlyphs">30</text>
<path d="M662.7 800.0 L662.7 808.5" fill="none" stroke="#000" stroke-width="1.1" />
<text x="662.7" y="833.2" font-size="16.8" fill="#000" text-anchor="middle" stroke="#000" stroke-width="0.3"  textLength="16.6" lengthAdjust="spacingAndGlyphs">40</text>
<text x="44.8" y="58.7" font-size="17.6" fill="#000" text-anchor="end" stroke="#000" stroke-width="0.3"  textLength="28.4" lengthAdjust="spacingAndGlyphs">250</text>
<text x="44.8" y="153.7" font-size="17.6" fill="#000" text-anchor="end" stroke="#000" stroke-width="0.3"  textLength="28.4" lengthAdjust="spacingAndGlyphs">300</text>
<text x="44.8" y="303.7" font-size="17.6" fill="#000" text-anchor="end" stroke="#000" stroke-width="0.3"  textLength="28.4" lengthAdjust="spacingAndGlyphs">400</text>
<text x="44.8" y="419.7" font-size="17.6" fill="#000" text-anchor="end" stroke="#000" stroke-width="0.3"  textLength="28.4" lengthAdjust="spacingAndGlyphs">500</text>
<text x="44.8" y="594.7" font-size="17.6" fill="#000" text-anchor="end" stroke="#000" stroke-width="0.3"  textLength="28.4" lengthAdjust="spacingAndGlyphs">700</text>
<text x="44.8" y="696.7" font-size="17.6" fill="#000" text-anchor="end" stroke="#000" stroke-width="0.3"  textLength="28.4" lengthAdjust="spacingAndGlyphs">850</text>
<text x="44.8" y="780.7" font-size="17.6" fill="#000" text-anchor="end" stroke="#000" stroke-width="0.3"  textLength="35.6" lengthAdjust="spacingAndGlyphs">1000</text>
<text transform="translate(15.2,469.6) rotate(-90)" font-size="16.5" stroke="#000" stroke-width="0.3" textLength="50.3" lengthAdjust="spacingAndGlyphs">P (hPa)</text>
<text x="375.6" y="854.0" font-size="15" fill="#000" text-anchor="start" stroke="#000" stroke-width="0.3"  textLength="110.2" lengthAdjust="spacingAndGlyphs">Temperature (C)</text>
<text transform="translate(772.7,356.3) rotate(90)" font-size="16" stroke="#000" stroke-width="0.3" textLength="140.7" lengthAdjust="spacingAndGlyphs">Height (1000 Feet)</text>
<circle cx="54.4" cy="20.9" r="4" fill="#000"/>
<text x="65.0" y="28.5" font-size="20" fill="#000" text-anchor="start" stroke="#000" stroke-width="0.3"  textLength="55.0" lengthAdjust="spacingAndGlyphs">NZCH</text>
<text x="127.8" y="28.2" font-size="14" fill="#000" text-anchor="start" stroke="#000" stroke-width="0.3"  textLength="146.2" lengthAdjust="spacingAndGlyphs">-43.489°,172.532° (58,32)</text>
<text x="292.2" y="28.5" font-size="20" fill="#000" text-anchor="start" stroke="#000" stroke-width="0.3"  textLength="156.6" lengthAdjust="spacingAndGlyphs">Valid 1900 NZDT</text>
<text x="455.2" y="28.2" font-size="14" fill="#000" text-anchor="start" stroke="#000" stroke-width="0.3"  textLength="52.6" lengthAdjust="spacingAndGlyphs">(0600Z)</text>
<text x="515.5" y="28.5" font-size="20" fill="#000" text-anchor="start" stroke="#000" stroke-width="0.3"  textLength="163.8" lengthAdjust="spacingAndGlyphs">SUN 31 Aug 2025</text>
<text x="686.3" y="28.2" font-size="14" fill="#000" text-anchor="start" stroke="#000" stroke-width="0.3"  textLength="124.3" lengthAdjust="spacingAndGlyphs">[18hrFcst@1750z]</text>
<text x="294.7" y="47.8" font-size="12" fill="#bb0a4e" text-anchor="start" stroke="#bb0a4e" stroke-width="0.5"  textLength="275.2" lengthAdjust="spacingAndGlyphs">Plcl=922 Tlcl[C]=0 Shox=6 Pwat[cm]=1 Cape[J]= 1</text>
<text x="48.0" y="48.8" font-size="12" fill="#00a800" text-anchor="start" stroke="#00a800" stroke-width="0.3"  textLength="16.8" lengthAdjust="spacingAndGlyphs">0.0</text>
<text x="48.0" y="64.4" font-size="12" fill="#000" text-anchor="start" stroke="#000" stroke-width="0.3"  textLength="16.8" lengthAdjust="spacingAndGlyphs">0.0</text>
<text x="48.0" y="799.2" font-size="12" fill="#00a800" text-anchor="start" stroke="#00a800" stroke-width="0.3"  textLength="16.8" lengthAdjust="spacingAndGlyphs">0.0</text>
<text x="48.0" y="812.4" font-size="12" fill="#000" text-anchor="start" stroke="#000" stroke-width="0.3"  textLength="16.8" lengthAdjust="spacingAndGlyphs">0.0</text>
<text x="78.8" y="48.8" font-size="12" fill="#00a800" text-anchor="start" stroke="#00a800" stroke-width="0.3"  textLength="16.8" lengthAdjust="spacingAndGlyphs">0.5</text>
<text x="78.8" y="64.4" font-size="12" fill="#000" text-anchor="start" stroke="#000" stroke-width="0.3"  textLength="16.8" lengthAdjust="spacingAndGlyphs">0.5</text>
<text x="78.8" y="799.2" font-size="12" fill="#00a800" text-anchor="start" stroke="#00a800" stroke-width="0.3"  textLength="16.8" lengthAdjust="spacingAndGlyphs">0.5</text>
<text x="78.8" y="812.4" font-size="12" fill="#000" text-anchor="start" stroke="#000" stroke-width="0.3"  textLength="16.8" lengthAdjust="spacingAndGlyphs">0.5</text>
<text x="110.0" y="48.8" font-size="12" fill="#00a800" text-anchor="start" stroke="#00a800" stroke-width="0.3"  textLength="16.8" lengthAdjust="spacingAndGlyphs">1.0</text>
<text x="110.0" y="64.4" font-size="12" fill="#000" text-anchor="start" stroke="#000" stroke-width="0.3"  textLength="16.8" lengthAdjust="spacingAndGlyphs">1.0</text>
<text x="110.0" y="799.2" font-size="12" fill="#00a800" text-anchor="start" stroke="#00a800" stroke-width="0.3"  textLength="16.8" lengthAdjust="spacingAndGlyphs">1.0</text>
<text x="110.0" y="812.4" font-size="12" fill="#000" text-anchor="start" stroke="#000" stroke-width="0.3"  textLength="16.8" lengthAdjust="spacingAndGlyphs">1.0</text>
<text x="133.5" y="799.2" font-size="12.3" fill="#00a800" text-anchor="start" stroke="#00a800" stroke-width="0.3"  textLength="101.5" lengthAdjust="spacingAndGlyphs">CloudWater (g/Kg)</text>
<text x="133.5" y="812.4" font-size="12.3" fill="#000" text-anchor="start" stroke="#000" stroke-width="0.3"  textLength="122.5" lengthAdjust="spacingAndGlyphs">Grid-Scale Cloudiness</text>
<text x="713.2" y="65.3" font-size="12" fill="#00a800" text-anchor="middle" stroke="#00a800" stroke-width="0.3" font-weight="bold" textLength="6.3" lengthAdjust="spacingAndGlyphs">0</text>
<text x="713.2" y="799.2" font-size="12" fill="#00a800" text-anchor="middle" stroke="#00a800" stroke-width="0.3" font-weight="bold" textLength="6.3" lengthAdjust="spacingAndGlyphs">0</text>
<text x="758.7" y="65.3" font-size="12" fill="#00a800" text-anchor="middle" stroke="#00a800" stroke-width="0.3" font-weight="bold" textLength="12.6" lengthAdjust="spacingAndGlyphs">20</text>
<text x="758.7" y="799.2" font-size="12" fill="#00a800" text-anchor="middle" stroke="#00a800" stroke-width="0.3" font-weight="bold" textLength="12.6" lengthAdjust="spacingAndGlyphs">20</text>
<text x="804.3" y="65.3" font-size="12" fill="#00a800" text-anchor="middle" stroke="#00a800" stroke-width="0.3" font-weight="bold" textLength="12.6" lengthAdjust="spacingAndGlyphs">40</text>
<text x="804.3" y="799.2" font-size="12" fill="#00a800" text-anchor="middle" stroke="#00a800" stroke-width="0.3" font-weight="bold" textLength="12.6" lengthAdjust="spacingAndGlyphs">40</text>
<text x="850.0" y="65.3" font-size="12" fill="#00a800" text-anchor="middle" stroke="#00a800" stroke-width="0.3" font-weight="bold" textLength="12.6" lengthAdjust="spacingAndGlyphs">60</text>
<text x="850.0" y="799.2" font-size="12" fill="#00a800" text-anchor="middle" stroke="#00a800" stroke-width="0.3" font-weight="bold" textLength="12.6" lengthAdjust="spacingAndGlyphs">60</text>
<text x="732.4" y="813.3" font-size="12.3" fill="#22b422" text-anchor="start" stroke="#22b422" stroke-width="0.1"  textLength="55.9" lengthAdjust="spacingAndGlyphs">Speed (kt)</text>
<path d="M57.0 74.0 L57.0 770.0" fill="none" stroke="#14a414" stroke-width="2.0" />
<path d="M57.0 544.0 L116.4 559.7 L117.8 575.4 L117.8 612.0 L116.4 621.0 L57.0 630.9" fill="none" stroke="#000" stroke-width="1.8" />
<path d="M57.0 667.5 L62.6 674.4 L57.0 681.0" fill="none" stroke="#000" stroke-width="1.8" />
<path d="M807.6 74.7 L784.9 150.3 L783.4 180.8 L787.2 215.7 L790.1 247.7 L792.4 290.0 L793.6 333.6 L793.0 375.8 L788.7 418.0 L783.4 461.5 L776.2 493.5 L768.3 519.7" fill="none" stroke="#1fbf1f" stroke-width="1.2" stroke-linejoin="round"/>
<path d="M768.3 519.7 C767.6 523.1 765.0 535.4 764.0 540.0 C763.0 544.6 762.9 543.2 762.5 547.4 C762.1 551.5 761.5 558.1 761.6 564.9 C761.7 571.7 763.1 579.4 763.1 588.1 C763.1 596.8 762.7 608.2 761.9 617.2 C761.1 626.2 760.2 634.6 758.1 641.9 C756.0 649.2 753.0 655.0 749.4 660.8 C745.8 666.6 739.3 671.9 736.3 676.8 C733.3 681.6 731.7 685.3 731.4 689.9 C731.1 694.5 732.5 699.6 734.3 704.4 C736.1 709.1 741.6 714.5 742.2 718.4 C742.8 722.3 740.5 724.6 737.8 727.7 C735.1 730.8 729.0 733.6 726.2 737.0 C723.4 740.4 722.1 743.7 720.9 748.0 C719.7 752.3 719.6 759.0 718.9 762.6 C718.2 766.2 717.2 768.6 716.9 769.8" fill="none" stroke="#1fbf1f" stroke-width="1.2"/>
<path d="M118.4 74.5 L111.1 114.4 L106.5 149.0 L110.0 184.0 L113.8 215.0 L104.7 247.0 L78.5 286.8 L94.7 330.3 L165.9 375.6 L210.0 419.0 L250.3 460.3 L274.7 493.5 L286.5 523.0 L298.8 543.2 L312.0 560.3 L325.3 576.5 L334.1 588.2 L340.0 600.0 L344.5 612.0 L344.7 636.5 L343.5 657.4 L351.6 674.9 L352.8 685.3 L350.9 697.0 L343.5 708.6 L337.0 717.9 L342.3 726.0 L358.6 738.4 L358.6 750.5 L356.7 762.1 L356.3 767.9 L358.6 769.5" fill="none" stroke="#1068ff" stroke-width="2.9" stroke-linejoin="round" stroke-linecap="round"/>
<path d="M292.4 74.1 L275.6 114.4 L271.8 146.8 L271.8 161.5 L274.1 207.0 L279.1 247.0 L285.9 288.2 L289.4 329.4 L290.9 376.5 L292.9 419.0 L293.8 458.8 L301.8 492.6 L312.0 517.6 L322.4 543.2 L334.1 576.5 L337.9 588.2 L347.4 608.8 L359.8 640.0 L364.0 659.8 L363.3 667.9 L360.5 679.5 L362.1 690.0 L367.9 701.6 L374.2 715.6 L373.7 734.2 L377.2 744.7 L387.7 758.6 L397.4 769.5" fill="none" stroke="#ff0808" stroke-width="3.0" stroke-linejoin="round" stroke-linecap="round"/>
<path d="M380.0 747.4 L395.0 766.2" fill="none" stroke="#780078" stroke-width="1.5" />
<circle cx="364.4" cy="769.8" r="3.6" fill="#1068ff"/>
<circle cx="397.7" cy="769.8" r="4.1" fill="#ff0808"/>
<path d="M713.4 74.6 L682.2 79.4" fill="none" stroke="#000" stroke-width="1.2" />
<path d="M682.2 79.4 L676.1 71.0" fill="none" stroke="#000" stroke-width="1.1" />
<path d="M685.4 78.9 L679.2 70.6" fill="none" stroke="#000" stroke-width="1.1" />
<path d="M688.5 78.4 L682.4 70.1" fill="none" stroke="#000" stroke-width="1.1" />
<path d="M691.7 77.9 L685.5 69.6" fill="none" stroke="#000" stroke-width="1.1" />
<path d="M713.4 114.4 L682.2 119.4" fill="none" stroke="#000" stroke-width="1.2" />
<path d="M682.2 119.4 L676.0 111.1" fill="none" stroke="#000" stroke-width="1.1" />
<path d="M685.4 118.9 L679.2 110.6" fill="none" stroke="#000" stroke-width="1.1" />
<path d="M688.5 118.4 L682.3 110.1" fill="none" stroke="#000" stroke-width="1.1" />
<path d="M691.7 117.9 L688.6 113.7" fill="none" stroke="#000" stroke-width="1.1" />
<path d="M713.4 150.4 L682.8 156.4" fill="none" stroke="#000" stroke-width="1.2" />
<path d="M682.8 156.4 L676.3 148.3" fill="none" stroke="#000" stroke-width="1.1" />
<path d="M685.9 155.8 L679.5 147.7" fill="none" stroke="#000" stroke-width="1.1" />
<path d="M689.1 155.2 L682.6 147.1" fill="none" stroke="#000" stroke-width="1.1" />
<path d="M713.4 184.2 L682.8 191.5" fill="none" stroke="#000" stroke-width="1.2" />
<path d="M682.8 191.5 L676.0 183.7" fill="none" stroke="#000" stroke-width="1.1" />
<path d="M685.9 190.8 L679.1 182.9" fill="none" stroke="#000" stroke-width="1.1" />
<path d="M689.0 190.0 L682.2 182.2" fill="none" stroke="#000" stroke-width="1.1" />
<path d="M713.4 215.0 L682.8 222.5" fill="none" stroke="#000" stroke-width="1.2" />
<path d="M682.8 222.5 L675.9 214.7" fill="none" stroke="#000" stroke-width="1.1" />
<path d="M685.9 221.7 L679.1 213.9" fill="none" stroke="#000" stroke-width="1.1" />
<path d="M689.0 221.0 L682.2 213.2" fill="none" stroke="#000" stroke-width="1.1" />
<path d="M713.4 247.5 L682.8 255.3" fill="none" stroke="#000" stroke-width="1.2" />
<path d="M682.8 255.3 L675.9 247.6" fill="none" stroke="#000" stroke-width="1.1" />
<path d="M685.9 254.5 L679.0 246.8" fill="none" stroke="#000" stroke-width="1.1" />
<path d="M689.0 253.7 L682.1 246.0" fill="none" stroke="#000" stroke-width="1.1" />
<path d="M692.1 252.9 L688.6 249.1" fill="none" stroke="#000" stroke-width="1.1" />
<path d="M713.4 286.0 L682.8 292.9" fill="none" stroke="#000" stroke-width="1.2" />
<path d="M682.8 292.9 L676.1 285.0" fill="none" stroke="#000" stroke-width="1.1" />
<path d="M685.9 292.2 L679.2 284.3" fill="none" stroke="#000" stroke-width="1.1" />
<path d="M689.0 291.5 L682.3 283.6" fill="none" stroke="#000" stroke-width="1.1" />
<path d="M692.2 290.8 L688.8 286.8" fill="none" stroke="#000" stroke-width="1.1" />
<path d="M713.4 330.5 L682.5 334.0" fill="none" stroke="#000" stroke-width="1.2" />
<path d="M682.5 334.0 L676.7 325.4" fill="none" stroke="#000" stroke-width="1.1" />
<path d="M685.7 333.6 L679.9 325.0" fill="none" stroke="#000" stroke-width="1.1" />
<path d="M688.9 333.3 L683.1 324.7" fill="none" stroke="#000" stroke-width="1.1" />
<path d="M692.0 332.9 L689.1 328.6" fill="none" stroke="#000" stroke-width="1.1" />
<path d="M713.4 375.9 L682.0 376.4" fill="none" stroke="#000" stroke-width="1.2" />
<path d="M682.0 376.4 L677.1 367.3" fill="none" stroke="#000" stroke-width="1.1" />
<path d="M685.2 376.3 L680.3 367.2" fill="none" stroke="#000" stroke-width="1.1" />
<path d="M688.4 376.3 L683.5 367.2" fill="none" stroke="#000" stroke-width="1.1" />
<path d="M691.6 376.2 L689.1 371.7" fill="none" stroke="#000" stroke-width="1.1" />
<path d="M713.4 420.1 L682.0 420.4" fill="none" stroke="#000" stroke-width="1.2" />
<path d="M682.0 420.4 L677.1 411.2" fill="none" stroke="#000" stroke-width="1.1" />
<path d="M685.2 420.4 L680.3 411.2" fill="none" stroke="#000" stroke-width="1.1" />
<path d="M688.4 420.3 L683.5 411.2" fill="none" stroke="#000" stroke-width="1.1" />
<path d="M713.4 460.3 L682.6 466.2" fill="none" stroke="#000" stroke-width="1.2" />
<path d="M682.6 466.2 L676.2 458.1" fill="none" stroke="#000" stroke-width="1.1" />
<path d="M685.7 465.6 L679.3 457.5" fill="none" stroke="#000" stroke-width="1.1" />
<path d="M688.9 465.0 L685.7 460.9" fill="none" stroke="#000" stroke-width="1.1" />
<path d="M713.4 493.4 L683.0 504.0" fill="none" stroke="#000" stroke-width="1.2" />
<path d="M683.0 504.0 L675.4 496.9" fill="none" stroke="#000" stroke-width="1.1" />
<path d="M686.0 502.9 L678.5 495.8" fill="none" stroke="#000" stroke-width="1.1" />
<path d="M689.0 501.9 L685.3 498.3" fill="none" stroke="#000" stroke-width="1.1" />
<path d="M713.4 521.1 L685.2 534.4" fill="none" stroke="#000" stroke-width="1.2" />
<path d="M685.2 534.4 L676.9 528.1" fill="none" stroke="#000" stroke-width="1.1" />
<path d="M688.1 533.0 L679.8 526.8" fill="none" stroke="#000" stroke-width="1.1" />
<path d="M691.0 531.7 L686.9 528.5" fill="none" stroke="#000" stroke-width="1.1" />
<path d="M713.4 543.4 L686.0 557.5" fill="none" stroke="#000" stroke-width="1.2" />
<path d="M686.0 557.5 L677.5 551.5" fill="none" stroke="#000" stroke-width="1.1" />
<path d="M688.8 556.0 L680.4 550.1" fill="none" stroke="#000" stroke-width="1.1" />
<path d="M713.4 561.3 L686.0 574.8" fill="none" stroke="#000" stroke-width="1.2" />
<path d="M686.0 574.8 L677.6 568.7" fill="none" stroke="#000" stroke-width="1.1" />
<path d="M688.9 573.4 L680.5 567.3" fill="none" stroke="#000" stroke-width="1.1" />
<path d="M713.4 575.1 L686.0 588.6" fill="none" stroke="#000" stroke-width="1.2" />
<path d="M686.0 588.6 L677.6 582.5" fill="none" stroke="#000" stroke-width="1.1" />
<path d="M688.9 587.2 L680.5 581.1" fill="none" stroke="#000" stroke-width="1.1" />
<path d="M713.4 588.6 L686.0 600.8" fill="none" stroke="#000" stroke-width="1.2" />
<path d="M686.0 600.8 L677.9 594.3" fill="none" stroke="#000" stroke-width="1.1" />
<path d="M688.9 599.5 L680.8 593.0" fill="none" stroke="#000" stroke-width="1.1" />
<path d="M713.4 599.2 L686.5 612.2" fill="none" stroke="#000" stroke-width="1.2" />
<path d="M686.5 612.2 L678.2 606.0" fill="none" stroke="#000" stroke-width="1.1" />
<path d="M689.4 610.8 L681.1 604.6" fill="none" stroke="#000" stroke-width="1.1" />
<path d="M713.4 610.6 L686.0 622.3" fill="none" stroke="#000" stroke-width="1.2" />
<path d="M686.0 622.3 L678.0 615.7" fill="none" stroke="#000" stroke-width="1.1" />
<path d="M688.9 621.0 L680.9 614.5" fill="none" stroke="#000" stroke-width="1.1" />
<path d="M713.4 621.2 L684.8 631.3" fill="none" stroke="#000" stroke-width="1.2" />
<path d="M684.8 631.3 L677.2 624.2" fill="none" stroke="#000" stroke-width="1.1" />
<path d="M687.8 630.2 L680.2 623.2" fill="none" stroke="#000" stroke-width="1.1" />
<path d="M713.4 631.3 L683.8 637.4" fill="none" stroke="#000" stroke-width="1.2" />
<path d="M683.8 637.4 L677.2 629.4" fill="none" stroke="#000" stroke-width="1.1" />
<path d="M686.9 636.8 L680.4 628.7" fill="none" stroke="#000" stroke-width="1.1" />
<path d="M713.4 640.6 L683.4 643.5" fill="none" stroke="#000" stroke-width="1.2" />
<path d="M683.4 643.5 L677.7 634.8" fill="none" stroke="#000" stroke-width="1.1" />
<path d="M686.6 643.2 L680.9 634.5" fill="none" stroke="#000" stroke-width="1.1" />
<path d="M713.4 649.5 L683.6 649.5" fill="none" stroke="#000" stroke-width="1.2" />
<path d="M683.6 649.5 L678.8 640.3" fill="none" stroke="#000" stroke-width="1.1" />
<path d="M686.8 649.5 L682.0 640.3" fill="none" stroke="#000" stroke-width="1.1" />
<path d="M713.4 658.2 L685.0 654.9" fill="none" stroke="#000" stroke-width="1.2" />
<path d="M685.0 654.9 L681.3 645.2" fill="none" stroke="#000" stroke-width="1.1" />
<path d="M688.2 655.3 L686.3 650.4" fill="none" stroke="#000" stroke-width="1.1" />
<path d="M713.4 666.7 L683.4 658.6" fill="none" stroke="#000" stroke-width="1.2" />
<path d="M683.4 658.6 L681.2 648.5" fill="none" stroke="#000" stroke-width="1.1" />
<path d="M686.5 659.4 L685.4 654.4" fill="none" stroke="#000" stroke-width="1.1" />
<path d="M713.4 674.4 L682.8 668.6 L679.5 659.0" fill="none" stroke="#000" stroke-width="1.1" />
<path d="M713.4 682.1 L682.3 685.2 L676.3 676.5" fill="none" stroke="#000" stroke-width="1.1" />
<path d="M713.4 690.5 L685.3 704.1 L677.3 698.4" fill="none" stroke="#000" stroke-width="1.1" />
<path d="M713.4 696.9 L692.8 720.4 L682.4 718.3" fill="none" stroke="#000" stroke-width="1.1" />
<path d="M713.4 703.4 L699.3 732.0 L689.3 732.5" fill="none" stroke="#000" stroke-width="1.1" />
<path d="M713.4 709.5 L704.9 741.6 L695.0 743.7" fill="none" stroke="#000" stroke-width="1.1" />
<path d="M713.4 716.0 L709.8 749.3 L700.0 753.0" fill="none" stroke="#000" stroke-width="1.1" />
<path d="M713.4 721.0 L708.4 757.7 L703.5 759.8" fill="none" stroke="#000" stroke-width="1.1" />
<path d="M713.4 725.0 L707.4 745.5 L692.5 783.5" fill="none" stroke="#000" stroke-width="1.0" />
<path d="M713.4 731.0 L707.4 749.7 L690.5 784.5" fill="none" stroke="#000" stroke-width="1.0" />
<path d="M713.4 737.0 L707.4 754.0 L688.5 785.5" fill="none" stroke="#000" stroke-width="1.0" />
<path d="M713.4 743.0 L707.4 758.0 L686.5 786.0" fill="none" stroke="#000" stroke-width="1.0" />
<path d="M713.4 749.0 L707.4 761.6 L685.3 785.0" fill="none" stroke="#000" stroke-width="1.0" />
<path d="M713.4 755.0 L707.4 766.2 L687.5 787.0" fill="none" stroke="#000" stroke-width="1.0" />
<path d="M713.4 760.0 L707.4 769.6 L689.5 787.5" fill="none" stroke="#000" stroke-width="1.0" />
<path d="M713.4 765.0 L707.4 773.0 L692.0 788.0" fill="none" stroke="#000" stroke-width="1.0" />
<path d="M713.4 770.0 L707.4 776.3 L694.0 788.0" fill="none" stroke="#000" stroke-width="1.0" />
</svg></body></html>
